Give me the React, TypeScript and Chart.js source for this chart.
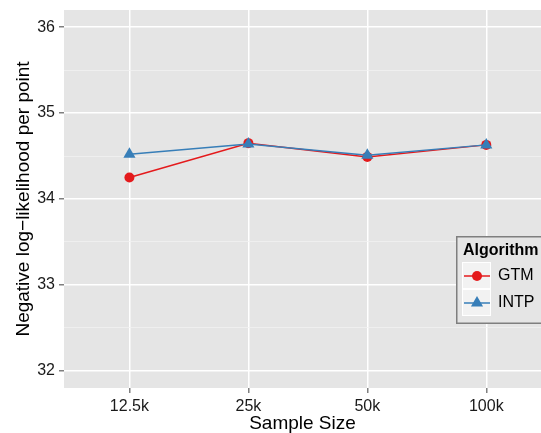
import React, { useEffect, useRef } from 'react';
import { Chart, registerables } from 'chart.js';

Chart.register(...registerables);

const categories = ['12.5k', '25k', '50k', '100k'];
const gtmValues = [34.25, 34.65, 34.49, 34.63];
const intpValues = [34.52, 34.64, 34.51, 34.63];
const yMajorTicks = [32, 33, 34, 35, 36];
const seriesNames = ['GTM', 'INTP'];
const legendTitle = 'Algorithm';
const xTitle = 'Sample Size';
const yTitle = 'Negative log\u2212likelihood per point';

const RED = '#E41A1C';
const BLUE = '#377EB8';
const FONT = "'Liberation Sans', Arial, sans-serif";

const yAllTicks: number[] = [];
yMajorTicks.forEach((v, i) => {
  yAllTicks.push(v);
  if (i < yMajorTicks.length - 1) yAllTicks.push(v + 0.5);
});

const isMajor = (v: number) => Math.abs(v - Math.round(v)) < 1e-9;

const panelBg = {
  id: 'panelBg',
  beforeDraw(chart: any) {
    const { ctx, chartArea } = chart;
    ctx.save();
    ctx.fillStyle = '#E5E5E5';
    ctx.fillRect(chartArea.left, chartArea.top, chartArea.right - chartArea.left, chartArea.bottom - chartArea.top);
    ctx.restore();
  },
};

function drawTriangle(ctx: CanvasRenderingContext2D, x: number, y: number, r: number) {
  let rad = 0;
  const step = (2 * Math.PI) / 3;
  ctx.beginPath();
  ctx.moveTo(x + Math.sin(rad) * r, y - Math.cos(rad) * r);
  rad += step;
  ctx.lineTo(x + Math.sin(rad) * r, y - Math.cos(rad) * r);
  rad += step;
  ctx.lineTo(x + Math.sin(rad) * r, y - Math.cos(rad) * r);
  ctx.closePath();
  ctx.fill();
}

const legendPlugin = {
  id: 'ggLegend',
  afterDraw(chart: any) {
    const ctx: CanvasRenderingContext2D = chart.ctx;
    ctx.save();
    const bx = 456, by = 236, bw = 110, bh = 88;
    ctx.fillStyle = '#E5E5E5';
    ctx.fillRect(bx, by, bw, bh);
    ctx.strokeStyle = '#7F7F7F';
    ctx.lineWidth = 1.5;
    ctx.strokeRect(bx + 0.75, by + 0.75, bw, bh - 1.5);

    ctx.fillStyle = '#000';
    ctx.font = `bold 16px ${FONT}`;
    ctx.textBaseline = 'middle';
    ctx.textAlign = 'left';
    ctx.fillText(legendTitle, 463, 251);

    const colors = [RED, BLUE];
    seriesNames.forEach((name, i) => {
      const ky = 262 + i * 27;
      ctx.fillStyle = '#F2F2F2';
      ctx.fillRect(462, ky, 29, 27);
      ctx.strokeStyle = '#FFFFFF';
      ctx.lineWidth = 1;
      ctx.strokeRect(462.5, ky + 0.5, 28, 26);
      const cy = ky + 14;
      ctx.strokeStyle = colors[i];
      ctx.lineWidth = 1.5;
      ctx.beginPath();
      ctx.moveTo(464, cy);
      ctx.lineTo(490, cy);
      ctx.stroke();
      ctx.fillStyle = colors[i];
      if (i === 0) {
        ctx.beginPath();
        ctx.arc(477, cy, 5, 0, Math.PI * 2);
        ctx.fill();
      } else {
        drawTriangle(ctx, 477, cy, 7);
      }
      ctx.fillStyle = '#000';
      ctx.font = `16px ${FONT}`;
      ctx.fillText(name, 498, cy);
    });
    ctx.restore();
  },
};

export default function App() {
  const canvasRef = useRef<HTMLCanvasElement | null>(null);

  useEffect(() => {
    document.body.style.margin = '0';
    const canvas = canvasRef.current;
    if (!canvas) return;
    const chart = new Chart(canvas, {
      type: 'line',
      data: {
        datasets: [
          {
            label: seriesNames[1],
            data: intpValues.map((v, i) => ({ x: i, y: v })),
            borderColor: BLUE,
            backgroundColor: BLUE,
            borderWidth: 1.5,
            pointStyle: 'triangle',
            pointRadius: 7,
            pointBorderWidth: 0,
            pointBackgroundColor: BLUE,
            order: 0,
          },
          {
            label: seriesNames[0],
            data: gtmValues.map((v, i) => ({ x: i, y: v })),
            borderColor: RED,
            backgroundColor: RED,
            borderWidth: 1.5,
            pointStyle: 'circle',
            pointRadius: 5,
            pointBorderWidth: 0,
            pointBackgroundColor: RED,
            order: 1,
          },
        ],
      },
      options: {
        responsive: false,
        animation: false,
        layout: { autoPadding: false, padding: { top: 10, left: 0, right: 0, bottom: 0 } },
        plugins: {
          legend: { display: false },
          tooltip: { enabled: false },
        },
        scales: {
          x: {
            type: 'linear',
            min: -0.55,
            max: 3.46,
            afterBuildTicks: (scale: any) => {
              scale.ticks = categories.map((_, i) => ({ value: i }));
            },
            afterFit: (scale: any) => {
              scale.height = 45;
              scale.paddingLeft = 0;
              scale.paddingRight = 0;
            },
            ticks: {
              autoSkip: false,
              maxRotation: 0,
              padding: 4,
              color: '#1A1A1A',
              font: { family: FONT, size: 16 },
              callback: (v: any) => categories[Math.round(Number(v))] ?? '',
            },
            grid: {
              color: '#FFFFFF',
              lineWidth: 1.5,
              tickColor: '#7F7F7F',
              tickWidth: 1.5,
              tickLength: 5,
              drawTicks: true,
            },
            border: { display: false },
            title: {
              display: true,
              text: xTitle,
              color: '#000',
              font: { family: FONT, size: 19 },
              padding: { top: 0, bottom: -2 },
            },
          },
          y: {
            type: 'linear',
            min: 31.8,
            max: 36.2,
            afterBuildTicks: (scale: any) => {
              scale.ticks = yAllTicks.map((v) => ({ value: v }));
            },
            afterFit: (scale: any) => {
              scale.width = 64;
              scale.paddingTop = 0;
              scale.paddingBottom = 0;
            },
            ticks: {
              autoSkip: false,
              padding: 4,
              color: '#1A1A1A',
              font: { family: FONT, size: 16 },
              callback: (v: any) => (isMajor(Number(v)) ? String(Math.round(Number(v))) : ''),
            },
            grid: {
              color: (c: any) => (isMajor(c.tick.value) ? '#FFFFFF' : '#F2F2F2'),
              lineWidth: (c: any) => (isMajor(c.tick.value) ? 1.5 : 0.75),
              tickColor: (c: any) => (isMajor(c.tick.value) ? '#7F7F7F' : 'rgba(0,0,0,0)'),
              tickWidth: 1.5,
              tickLength: 5,
              drawTicks: true,
            },
            border: { display: false },
            title: {
              display: true,
              text: yTitle,
              color: '#000',
              font: { family: FONT, size: 19 },
              padding: { top: 12, bottom: 0 },
            },
          },
        },
      },
      plugins: [panelBg, legendPlugin],
    } as any);
    return () => chart.destroy();
  }, []);

  return (
    <div style={{ width: 541, height: 433, position: 'relative', overflow: 'hidden' }}>
      <canvas ref={canvasRef} width={541} height={433} style={{ display: 'block', width: 541, height: 433 }} />
    </div>
  );
}
